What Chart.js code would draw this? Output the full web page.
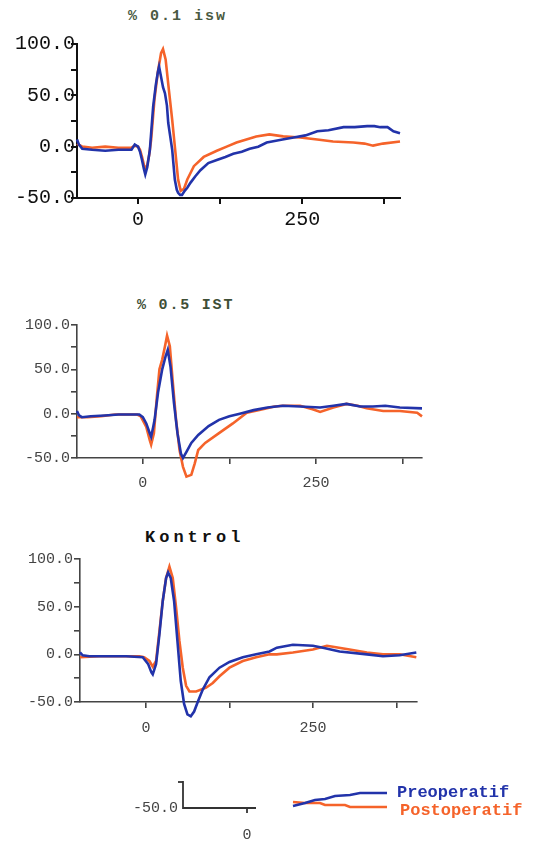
<!DOCTYPE html>
<html><head><meta charset="utf-8">
<script src="https://cdn.jsdelivr.net/npm/chart.js@4.4.1/dist/chart.umd.min.js"></script>
<style>
body{margin:0;background:#fff;width:538px;height:844px;position:relative;overflow:hidden}
canvas{position:absolute;left:0}
.t{position:absolute;font-family:"Liberation Mono",monospace;white-space:nowrap;line-height:1}
</style></head><body>
<div class="t" style="left:128px;top:9px;font-size:15px;color:#4a5a42;font-weight:bold;letter-spacing:2px">% 0.1 isw</div>
<div class="t" style="left:137px;top:298px;font-size:15px;color:#3e4e36;font-weight:bold;letter-spacing:1.8px">% 0.5 IST</div>
<div class="t" style="left:145px;top:529px;font-size:17px;color:#111;font-weight:bold;letter-spacing:4px">Kontrol</div>
<canvas id="c1" width="408" height="204" style="top:34px"></canvas>
<canvas id="c2" width="430" height="188" style="top:315px"></canvas>
<canvas id="c3" width="425" height="198" style="top:549px"></canvas>
<canvas id="leg" width="538" height="90" style="top:754px"></canvas>
<script>
const BLUE = '#2233aa', ORANGE = '#f5632a';
const seriesNames = ['Preoperatif', 'Postoperatif'];
const titles = ['% 0.1 isw', '% 0.5 IST', 'Kontrol'];
const yTicks = [-50, -25, 0, 25, 50, 75, 100];
const yLabelled = [-50, 0, 50, 100];
const xTicks = [0, 125, 250, 375];
const xLabelled = [0, 250];

// Panel 1 (% 0.1)
const p1PreX = [-93,-90,-85,-70,-50,-30,-10,-5,0,3,6,9,11,14,18,23,27,30,32,35,38,41,44,46,49,52,56,59,61,64,67,71,75,80,87,95,107,120,133,145,158,170,183,196,204,220,237,255,273,290,313,330,349,360,369,380,389,399];
const p1PreY = [7,2,-2,-3,-4,-3,-3,2,0,-5,-13,-22,-27,-20,-3,39,60,72,78,68,58,52,40,23,10,-3,-32,-42,-45,-47,-47,-43,-40,-35,-29,-23,-16,-13,-10,-7,-5,-2,0,4,5,7,9,11,15,16,19,19,20,20,19,19,15,13];
const p1PostX = [-93,-85,-70,-50,-30,-10,-5,0,3,6,9,11,14,17,20,25,30,35,38,42,47,52,57,61,65,70,75,85,100,120,135,150,165,180,200,221,247,273,297,328,345,358,373,399];
const p1PostY = [3,0,-1,0,-1,-1,1,0,-3,-10,-18,-22,-18,-8,7,46,72,91,95,85,55,26,-6,-32,-43,-41,-32,-19,-10,-4,0,4,7,10,12,10,9,7,5,4,3,1,3,5];

// Panel 2 (% 0.5)
const p2PreX = [-95,-92,-88,-75,-55,-35,-15,-5,0,5,10,12,15,17,22,28,33,36,40,45,50,55,58,63,70,80,95,110,125,140,160,180,202,227,256,275,294,314,332,350,371,403];
const p2PreY = [3,-2,-4,-3,-2,-1,-1,-1,-4,-11,-22,-26,-15,-7,24,50,65,72,53,12,-22,-45,-50,-43,-33,-24,-14,-7,-3,0,4,7,9,8,7,9,11,8,8,9,7,6];
const p2PostX = [-95,-80,-60,-40,-20,-8,-3,5,10,12,16,20,24,28,32,35,39,43,48,53,58,63,70,75,80,90,110,130,150,170,190,202,227,245,256,275,294,310,323,347,371,396,403];
const p2PostY = [-4,-4,-3,-1,-1,-1,-3,-15,-30,-35,-22,16,50,61,76,88,76,38,-7,-41,-60,-71,-69,-56,-41,-33,-22,-11,1,4.5,8,9,9,5,2,7,11,9,6,3,3,1,-3];

// Panel 3 (Kontrol)
const p3PreX = [-99,-95,-85,-60,-30,-5,3,8,10,15,20,25,30,33,37,42,47,52,57,62,67,72,78,85,95,110,125,145,165,185,196,220,250,265,290,331,355,380,405];
const p3PreY = [2,-1,-2,-2,-2,-3,-10,-19,-21,-10,21,56,80,86,80,56,14,-28,-52,-63,-65,-60,-49,-37,-24,-14,-8,-3,0,3,7,10,9,7,3,0,-2,-1,2];
const p3PostX = [-99,-70,-40,-10,-3,5,10,15,20,25,30,35,40,45,50,55,60,65,75,90,100,110,125,145,165,185,196,220,250,271,280,305,331,355,380,405];
const p3PostY = [-3,-2,-2,-2,-3,-7,-13,-7,24,56,80,92,80,49,14,-14,-33,-39,-39,-35,-30,-23,-14,-7,-3,0,0,2,5,9,8,5,2,0,0,-3];

const pts = (xs, ys) => xs.map((x, i) => ({x, y: ys[i]}));

function panel(id, o) {
  const tickFont = {family: '"Liberation Mono", monospace', size: o.fs};
  new Chart(document.getElementById(id), {
    type: 'line',
    data: {datasets: [
      {label: seriesNames[0], data: pts(o.preX, o.preY), borderColor: BLUE, clip: false},
      {label: seriesNames[1], data: pts(o.postX, o.postY), borderColor: ORANGE, clip: false}
    ]},
    options: {
      responsive: false, animation: false, devicePixelRatio: 1,
      layout: {padding: {top: 10, right: 8, left: 0, bottom: 0}},
      plugins: {legend: {display: false}, tooltip: {enabled: false}, title: {display: false}},
      elements: {point: {radius: 0}, line: {tension: 0, borderWidth: 2.6}},
      scales: {
        x: {type: 'linear', min: o.xmin, max: o.xmax,
          afterBuildTicks: s => { s.ticks = xTicks.map(v => ({value: v})); },
          afterFit: s => { s.height = o.xh; },
          ticks: {autoSkip: false, maxRotation: 0, padding: o.xpad, color: o.lc, font: tickFont,
            callback: v => xLabelled.includes(v) ? String(v) : ''},
          grid: {drawOnChartArea: false, tickLength: 6, color: o.ac, lineWidth: o.aw},
          border: {color: o.ac, width: o.aw}},
        y: {type: 'linear', min: -50, max: 100,
          afterBuildTicks: s => { s.ticks = yTicks.map(v => ({value: v})); },
          afterFit: s => { s.width = o.yw; },
          ticks: {autoSkip: false, padding: o.ypad, color: o.lc, font: tickFont,
            callback: v => yLabelled.includes(v) ? v.toFixed(1) : ''},
          grid: {drawOnChartArea: false, tickLength: 6, color: o.ac, lineWidth: o.aw},
          border: {color: o.ac, width: o.aw}}
      }
    }
  });
}

panel('c1', {preX: p1PreX, preY: p1PreY, postX: p1PostX, postY: p1PostY, xmin: -93, xmax: 399,
  xh: 40, yw: 77, fs: 20, xpad: 4, ypad: -4, lc: '#111', ac: '#111', aw: 2});
panel('c2', {preX: p2PreX, preY: p2PreY, postX: p2PostX, postY: p2PostY, xmin: -95, xmax: 403,
  xh: 45, yw: 77, fs: 15, xpad: 10, ypad: 1, lc: '#444', ac: '#444', aw: 1.6});
panel('c3', {preX: p3PreX, preY: p3PreY, postX: p3PostX, postY: p3PostY, xmin: -99, xmax: 406,
  xh: 45, yw: 80, fs: 15, xpad: 11, ypad: 1, lc: '#444', ac: '#444', aw: 1.6});

// scale bar + legend (decoration)
(function(){
  const c = document.getElementById('leg').getContext('2d');
  const oy = 754;
  c.strokeStyle = '#333'; c.lineWidth = 1.8;
  c.beginPath(); c.moveTo(183, 781 - oy); c.lineTo(183, 808 - oy); c.lineTo(256, 808 - oy); c.stroke();
  c.beginPath(); c.moveTo(247, 808 - oy); c.lineTo(247, 813 - oy); c.stroke();
  c.beginPath(); c.moveTo(178, 782 - oy); c.lineTo(183, 782 - oy); c.stroke();
  c.font = '15px "Liberation Mono", monospace'; c.fillStyle = '#444';
  c.textAlign = 'right'; c.textBaseline = 'middle';
  c.fillText('-50.0', 178, 808 - oy);
  c.textAlign = 'center'; c.fillText('0', 247, 835 - oy);
  c.lineWidth = 2.6;
  c.strokeStyle = ORANGE; c.beginPath();
  [[293,802],[305,803],[320,803],[325,805],[345,805],[350,807],[387,807]].forEach((p,i)=> i?c.lineTo(p[0],p[1]-oy):c.moveTo(p[0],p[1]-oy));
  c.stroke();
  c.strokeStyle = BLUE; c.beginPath();
  [[293,806],[305,803],[315,800],[325,799],[335,796],[350,795],[360,793],[387,793]].forEach((p,i)=> i?c.lineTo(p[0],p[1]-oy):c.moveTo(p[0],p[1]-oy));
  c.stroke();
  c.font = 'bold 17px "Liberation Mono", monospace'; c.textAlign = 'left';
  c.fillStyle = BLUE; c.fillText(seriesNames[0], 397, 793 - oy);
  c.fillStyle = ORANGE; c.fillText(seriesNames[1], 400, 811 - oy);
})();
</script>
</body></html>
